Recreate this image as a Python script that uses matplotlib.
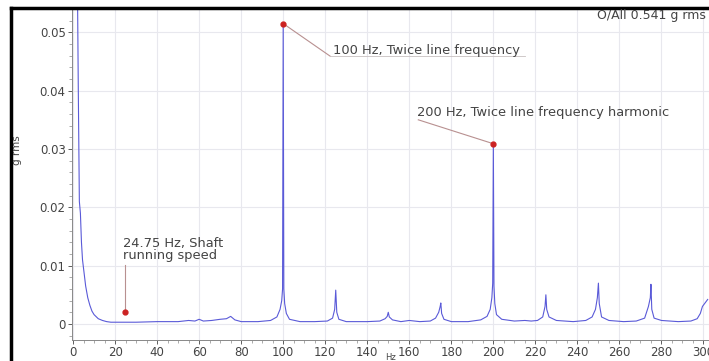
import matplotlib.pyplot as plt
from matplotlib.lines import Line2D

# spectrum (Hz, g rms), one line per stretch of the trace
freq = [0, 1, 2, 2.5, 3, 3.5, 4, 4.5, 5, 5.5,
        6, 7, 8, 9, 10, 12, 14, 16, 18, 20,
        24, 30, 40, 50, 55, 58, 60, 62, 66, 70,
        73, 75, 77, 80, 88, 94, 97,
        98.5, 99.3, 99.7, 100, 100.3, 100.7, 101.5, 103, 108,
        115, 121, 123.5, 124.5, 125, 125.5, 126.5, 130, 140,
        146, 148.5, 149.5, 150, 150.5, 152, 156,
        160, 165, 170, 172.5, 174, 174.7, 175, 175.4, 176.5, 180,
        188, 194, 197, 198.5, 199.3, 199.7, 200, 200.3, 200.7, 201.5, 204,
        210, 215, 218, 221, 223.5, 224.6, 225, 225.4, 226.5, 230,
        238, 244, 247, 248.6, 249.5, 250, 250.4, 251.5, 255,
        262, 268, 272, 273.8, 274.7, 275, 275.4, 276.5, 280,
        288, 294, 297, 298.5, 299.5, 302]
amp = [0.070, 0.068, 0.062, 0.040, 0.021, 0.019, 0.014, 0.011, 0.0095, 0.008,
       0.0065, 0.0045, 0.0032, 0.0022, 0.0016, 0.0009, 0.0006, 0.0004, 0.0003, 0.0003,
       0.0003, 0.0003, 0.0004, 0.0004, 0.0006, 0.0005, 0.0008, 0.0005, 0.0006, 0.0008,
       0.0009, 0.0013, 0.0007, 0.0004, 0.0004, 0.0006, 0.0012,
       0.0025, 0.0040, 0.0060, 0.0515, 0.0060, 0.0035, 0.0018, 0.0008, 0.0004,
       0.0004, 0.0005, 0.0010, 0.0025, 0.0058, 0.0020, 0.0008, 0.0004, 0.0004,
       0.0005, 0.0009, 0.0013, 0.0020, 0.0012, 0.0007, 0.0004,
       0.0006, 0.0004, 0.0005, 0.0010, 0.0020, 0.0030, 0.0036, 0.0018, 0.0008, 0.0004,
       0.0004, 0.0007, 0.0013, 0.0025, 0.0045, 0.0070, 0.0309, 0.0065, 0.0035, 0.0016, 0.0008,
       0.0005, 0.0006, 0.0005, 0.0006, 0.0012, 0.0030, 0.0050, 0.0025, 0.0012, 0.0006,
       0.0004, 0.0006, 0.0012, 0.0025, 0.0045, 0.0070, 0.0035, 0.0012, 0.0006,
       0.0004, 0.0005, 0.0010, 0.0030, 0.0045, 0.0068, 0.0025, 0.0010, 0.0006,
       0.0004, 0.0005, 0.0009, 0.0018, 0.0030, 0.0042]

# marked peaks
mark_f = [24.75, 100, 200]
mark_a = [0.0020, 0.0515, 0.0309]
mark_txt = ['24.75 Hz, Shaft\nrunning speed',
            '100 Hz, Twice line frequency',
            '200 Hz, Twice line frequency harmonic']

xticks = list(range(0, 301, 20))
yticks = [0, 0.01, 0.02, 0.03, 0.04, 0.05]
ytick_labels = ['0', '0.01', '0.02', '0.03', '0.04', '0.05']

fig = plt.figure(figsize=(7.09, 3.61), dpi=100)
ax = fig.add_axes([72 / 709, 1 - 340 / 361, 1 - 72 / 709 + 0.01, (340 - 9) / 361])

ax.plot(freq, amp, color='#5a5ad8', linewidth=0.8)
ax.plot(mark_f, mark_a, 'o', color='#cc2222', markersize=3.5, zorder=5)

txt_kw = dict(fontsize=9.4, color='#444444', family='DejaVu Sans')
lead = dict(color='#b89090', linewidth=0.8)

# shaft running speed: text above, vertical leader down to the dot
ax.text(23.8, 0.0106, mark_txt[0], ha='left', va='bottom', linespacing=0.95, **txt_kw)
ax.plot([mark_f[0], mark_f[0]], [0.0101, mark_a[0]], **lead)

# 100 Hz: diagonal leader to an underline under the text
ax.plot([mark_f[1], 122.4], [mark_a[1], 0.0459], **lead)
ax.plot([122.4, 215], [0.0459, 0.0459], color='#c8c0c0', linewidth=0.6)
ax.text(123.8, 0.0468, mark_txt[1], ha='left', va='center', **txt_kw)

# 200 Hz: leader from under the text start to the dot
ax.text(163.8, 0.0363, mark_txt[2], ha='left', va='center', **txt_kw)
ax.plot([164.3, mark_f[2]], [0.0350, mark_a[2]], **lead)

ax.set_xlim(-0.5, 306)
ax.set_ylim(-0.00275, 0.054)
ax.set_xticks(xticks)
ax.set_yticks(yticks)
ax.set_xticklabels([str(t) for t in xticks])
ax.set_yticklabels(ytick_labels)
ax.minorticks_on()
ax.tick_params(labelsize=8.5, colors='#444444', length=3, width=0.6, pad=1.5)
ax.tick_params(which='minor', length=2, width=0.5, color='#888888')
ax.grid(True, which='major', color='#e8e8ee', linewidth=0.8)
for s in ['top', 'right']:
    ax.spines[s].set_visible(False)
for s in ['left', 'bottom']:
    ax.spines[s].set_color('#888888')
    ax.spines[s].set_linewidth(0.7)

fig.text(706 / 709, 1 - 16 / 361, 'O/All 0.541 g rms', ha='right', va='center',
         fontsize=9, color='#444444')
fig.text(17 / 709, 1 - 150 / 361, 'g rms', rotation=90, ha='center', va='center',
         fontsize=7.5, color='#444444')
fig.text(390 / 709, 1 - 357 / 361, 'Hz', ha='center', va='center',
         fontsize=6, color='#444444')

# black picture frame (left and top edges)
fig.add_artist(Line2D([11 / 709, 11 / 709], [0, 1 - 8 / 361], color='black', linewidth=2.5))
fig.add_artist(Line2D([11 / 709, 1], [1 - 8 / 361, 1 - 8 / 361], color='black', linewidth=2.5))

fig.savefig('out.png', dpi=100)
